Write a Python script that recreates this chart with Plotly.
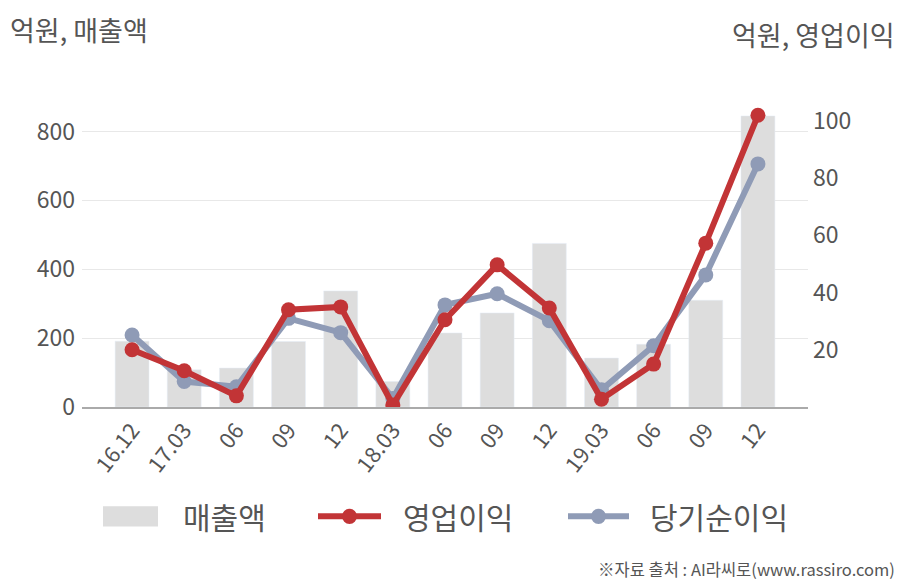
import plotly.graph_objects as go

categories = ["16.12", "17.03", "06", "09", "12", "18.03", "06 ", "09 ", "12 ", "19.03", "06  ", "09  ", "12  "]
tick_labels = ["16.12", "17.03", "06", "09", "12", "18.03", "06", "09", "12", "19.03", "06", "09", "12"]
sales = [191, 108, 113, 190, 337, 74, 215, 273, 475, 142, 182, 310, 845]
op_profit = [20, 12.7, 3.9, 34, 35, 0.7, 30.5, 49.7, 34.6, 2.7, 15, 57.3, 102]
net_profit = [25.2, 8.9, 7.1, 31, 26, 3, 35.7, 39.6, 30.2, 6, 21.4, 46.2, 85]

FONT = "Noto Sans CJK KR"
TXT = "#555555"
RED = "#c23436"
BLUE = "#8f9bb6"
BAR = "#dddddd"

x = list(range(len(categories)))

fig = go.Figure()
fig.add_trace(go.Bar(x=x, y=sales, name="매출액", marker_color=BAR, width=0.65, yaxis="y"))
fig.add_trace(go.Scatter(x=x, y=net_profit, name="당기순이익", mode="lines+markers",
                         line=dict(color=BLUE, width=6), marker=dict(size=15, color=BLUE), yaxis="y2"))
fig.add_trace(go.Scatter(x=x, y=op_profit, name="영업이익", mode="lines+markers",
                         line=dict(color=RED, width=6), marker=dict(size=15, color=RED), yaxis="y2"))

fig.update_layout(
    width=908, height=580,
    margin=dict(l=82, r=100, t=97, b=173),
    paper_bgcolor="white", plot_bgcolor="white",
    showlegend=False,
    font=dict(family=FONT, color=TXT),
    xaxis=dict(tickmode="array", tickvals=x, ticktext=tick_labels, range=[-0.96, 12.96],
               tickangle=-52, tickfont=dict(size=22, color=TXT), showgrid=False,
               showline=True, linecolor="#aaaaaa", linewidth=1.5, ticks=""),
    yaxis=dict(range=[0, 900], tickvals=[0, 200, 400, 600, 800], tickfont=dict(size=23, color=TXT),
               gridcolor="#e8e8e8", gridwidth=1, zeroline=False, ticklabelstandoff=6),
    yaxis2=dict(range=[0, 108.4], overlaying="y", side="right", tickvals=[20, 40, 60, 80, 100],
                tickfont=dict(size=23, color=TXT), showgrid=False, zeroline=False, ticklabelstandoff=4),
    bargap=0.35,
)

# titles
fig.add_annotation(text="억원, 매출액", xref="paper", yref="paper", x=-74/726, y=1 + (97-30)/309,
                   xanchor="left", yanchor="middle", showarrow=False, font=dict(size=27, color=TXT, family=FONT))
fig.add_annotation(text="억원, 영업이익", xref="paper", yref="paper", x=1 + 89/726, y=1 + (97-35)/309,
                   xanchor="right", yanchor="middle", showarrow=False, font=dict(size=27, color=TXT, family=FONT))
# source
fig.add_annotation(text="※자료 출처 : AI라씨로(www.rassiro.com)", xref="paper", yref="paper",
                   x=1 + 89/726, y=-(567-406)/309, xanchor="right", yanchor="middle", showarrow=False,
                   font=dict(size=16.5, color=TXT, family=FONT))

# custom legend (paper coords)
def px(xp):
    return (xp - 82) / 726
def py(yp):
    return (406 - yp) / 309

ly = 515
fig.add_shape(type="rect", xref="paper", yref="paper", x0=px(103), x1=px(158), y0=py(525), y1=py(505),
              fillcolor=BAR, line=dict(width=0))
fig.add_annotation(text="매출액", xref="paper", yref="paper", x=px(181), y=py(ly), xanchor="left",
                   yanchor="middle", showarrow=False, font=dict(size=30, color=TXT, family=FONT))
for (x0, x1, tx, name, col) in [(318, 381, 401, "영업이익", RED), (568, 629, 648, "당기순이익", BLUE)]:
    fig.add_shape(type="line", xref="paper", yref="paper", x0=px(x0), x1=px(x1), y0=py(ly), y1=py(ly),
                  line=dict(color=col, width=6))
    cx = (x0 + x1) / 2
    fig.add_shape(type="circle", xref="paper", yref="paper", x0=px(cx - 7.5), x1=px(cx + 7.5),
                  y0=py(ly + 7.5), y1=py(ly - 7.5), fillcolor=col, line=dict(width=0))
    fig.add_annotation(text=name, xref="paper", yref="paper", x=px(tx), y=py(ly), xanchor="left",
                       yanchor="middle", showarrow=False, font=dict(size=30, color=TXT, family=FONT))

fig.write_html("out.html")
